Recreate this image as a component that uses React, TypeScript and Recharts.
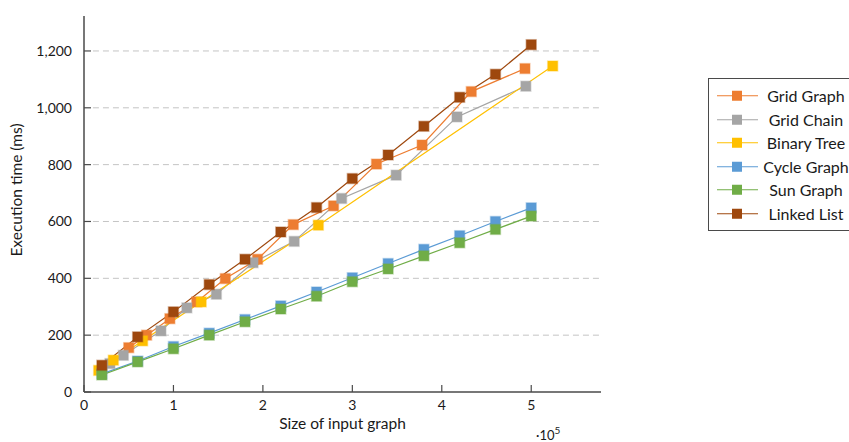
import React from "react";
import { LineChart, Line, XAxis, YAxis, ReferenceLine, Legend } from "recharts";

// x values are in units of 10^5 nodes, y in ms
const gridGraphX = [0.5, 0.7, 0.96, 1.26, 1.58, 1.94, 2.34, 2.79, 3.27, 3.78, 4.33, 4.93];
const gridGraphY = [156, 200, 258, 317, 399, 467, 589, 655, 802, 869, 1057, 1138];

const gridChainX = [0.29, 0.44, 0.86, 1.15, 1.48, 1.89, 2.35, 2.88, 3.49, 4.17, 4.94];
const gridChainY = [100, 129, 215, 296, 344, 455, 530, 681, 763, 968, 1076];

const binaryTreeX = [0.164, 0.328, 0.655, 1.31, 2.62, 5.24];
const binaryTreeY = [76, 112, 180, 317, 587, 1147];

const stepX = [0.2, 0.6, 1.0, 1.4, 1.8, 2.2, 2.6, 3.0, 3.4, 3.8, 4.2, 4.6, 5.0];
const cycleGraphY = [64, 109, 160, 207, 255, 303, 352, 402, 452, 502, 550, 600, 648];
const sunGraphY = [60, 106, 152, 200, 247, 292, 337, 388, 433, 479, 525, 572, 619];
const linkedListY = [94, 194, 282, 378, 467, 563, 649, 751, 834, 935, 1037, 1118, 1222];

const xTicks = [0, 1, 2, 3, 4, 5];
const yTicks = [0, 200, 400, 600, 800, 1000, 1200];

const X_MAX = 5.78;
const FONT = "Lato, 'Open Sans', sans-serif";
const AXIS = "#4a4a4a";

const zip = (xs: number[], ys: number[]) => xs.map((x, i) => ({ x, y: ys[i] }));

const series = [
  { name: "Grid Graph", color: "#ED7D31", data: zip(gridGraphX, gridGraphY) },
  { name: "Grid Chain", color: "#A5A5A5", data: zip(gridChainX, gridChainY) },
  { name: "Binary Tree", color: "#FFC000", data: zip(binaryTreeX, binaryTreeY) },
  { name: "Cycle Graph", color: "#5B9BD5", data: zip(stepX, cycleGraphY) },
  { name: "Sun Graph", color: "#70AD47", data: zip(stepX, sunGraphY) },
  { name: "Linked List", color: "#9E480E", data: zip(stepX, linkedListY) },
];

const squareDot = (color: string) => (props: any) => {
  const { cx, cy, index } = props;
  if (cx == null || cy == null) return <g key={index} />;
  return (
    <rect
      key={index}
      x={cx - 5}
      y={cy - 5}
      width={10}
      height={10}
      fill={color}
      stroke={color}
      strokeOpacity={0.35}
      strokeWidth={1.5}
    />
  );
};

const YTick = (props: any) => {
  const { x, y, payload } = props;
  return (
    <g>
      <line x1={x + 12} x2={x + 19} y1={y} y2={y} stroke={AXIS} strokeWidth={1.2} />
      <text x={x} y={y + 5} textAnchor="end" fontSize={14} fontFamily={FONT} fill="#1a1a1a">
        {payload.value.toLocaleString("en-US")}
      </text>
    </g>
  );
};

const XTick = (props: any) => {
  const { x, y, payload } = props;
  return (
    <g>
      <line x1={x} x2={x} y1={y - 6} y2={y - 13} stroke={AXIS} strokeWidth={1.2} />
      <text x={x} y={y + 12} textAnchor="middle" fontSize={14} fontFamily={FONT} fill="#1a1a1a">
        {payload.value}
      </text>
    </g>
  );
};

const XLabel = (props: any) => {
  const { viewBox } = props;
  const cx = viewBox.x + viewBox.width / 2;
  return (
    <g>
      <text x={cx} y={viewBox.y + 37} textAnchor="middle" fontSize={15.5} fontFamily={FONT} fill="#1a1a1a">
        Size of input graph
      </text>
      <text x={536} y={viewBox.y + 48} fontSize={13} fontFamily={FONT} fill="#1a1a1a">
        ·10
        <tspan dy={-6} fontSize={10}>5</tspan>
      </text>
    </g>
  );
};

const YLabel = (props: any) => {
  const { viewBox } = props;
  const cy = viewBox.y + viewBox.height / 2 - 14;
  return (
    <text
      x={22}
      y={cy}
      transform={`rotate(-90, 22, ${cy})`}
      textAnchor="middle"
      fontSize={15.5}
      fontFamily={FONT}
      fill="#1a1a1a"
    >
      Execution time (ms)
    </text>
  );
};

const LegendBox = () => (
  <div
    style={{
      border: `1px solid ${AXIS}`,
      background: "#fff",
      width: 150,
      height: 153,
      paddingTop: 5,
      boxSizing: "border-box",
      fontFamily: FONT,
      fontSize: 16,
      color: "#1a1a1a",
    }}
  >
    {series.map((s) => (
      <div key={s.name} style={{ position: "relative", height: 23.5 }}>
        <svg width={50} height={23.5} style={{ position: "absolute", left: 0, top: 0 }}>
          <line x1={8} x2={49} y1={11.75} y2={11.75} stroke={s.color} strokeWidth={1.2} />
          <rect x={23} y={6.75} width={10} height={10} fill={s.color} />
        </svg>
        <div
          style={{
            position: "absolute",
            left: 49,
            width: 96,
            top: 0,
            lineHeight: "23.5px",
            textAlign: "center",
            whiteSpace: "nowrap",
          }}
        >
          {s.name}
        </div>
      </div>
    ))}
  </div>
);

export default function App() {
  return (
    <div style={{ position: "absolute", left: 0, top: 0, width: 849, height: 442, overflow: "hidden", background: "#fff" }}>
      <LineChart width={849} height={442} margin={{ top: 16, right: 248, bottom: 0, left: 0 }}>
        <XAxis
          dataKey="x"
          type="number"
          domain={[0, X_MAX]}
          ticks={xTicks}
          allowDataOverflow
          height={50}
          tickLine={false}
          tickSize={0}
          tickMargin={6}
          axisLine={{ stroke: AXIS, strokeWidth: 1.5 }}
          tick={<XTick />}
          label={<XLabel />}
        />
        <YAxis
          type="number"
          domain={[0, 1323]}
          ticks={yTicks}
          allowDataOverflow
          width={84}
          tickLine={false}
          tickSize={0}
          tickMargin={12}
          axisLine={{ stroke: AXIS, strokeWidth: 1.5 }}
          tick={<YTick />}
          label={<YLabel />}
        />
        {yTicks
          .filter((t) => t > 0)
          .map((t) => (
            <ReferenceLine
              key={t}
              segment={[
                { x: 0.1, y: t },
                { x: X_MAX, y: t },
              ]}
              stroke="#c4c4c4"
              strokeDasharray="6 4"
            />
          ))}
        <Legend
          layout="horizontal"
          verticalAlign="middle"
          align="center"
          wrapperStyle={{ left: 708, top: 78, width: 150 }}
          content={() => <LegendBox />}
        />
        {series.map((s) => (
          <Line
            key={s.name}
            name={s.name}
            data={s.data}
            dataKey="y"
            stroke={s.color}
            strokeWidth={1.2}
            dot={squareDot(s.color)}
            activeDot={false}
            isAnimationActive={false}
          />
        ))}
      </LineChart>
    </div>
  );
}
